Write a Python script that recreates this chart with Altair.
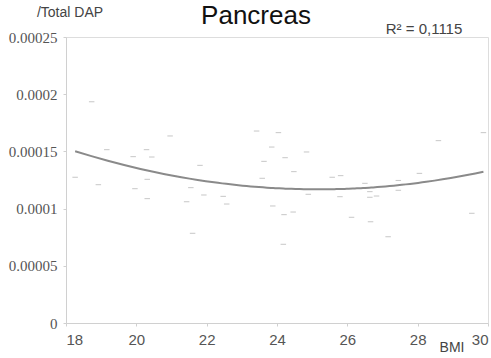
import altair as alt
import pandas as pd

# BMI of each subject and the matching nuclear DAP fraction
bmi = [18.73, 20.96, 19.16, 20.29, 19.91, 20.44, 21.81, 18.26, 20.31, 18.92,
       21.55, 19.96, 21.92, 20.31, 21.43, 21.60, 23.42, 24.04, 23.85, 24.84,
       24.23, 23.63, 24.48, 23.58, 25.57, 25.81, 22.47, 22.57, 24.89, 25.79,
       23.88, 24.20, 24.46, 24.18, 29.87, 28.59, 28.05, 27.45, 26.50, 26.64,
       27.45, 26.64, 26.83, 26.12, 26.66, 29.54, 27.16, 23.99]
dap = [0.0001934, 0.0001635, 0.0001515, 0.0001515, 0.0001454, 0.0001451, 0.0001378,
       0.0001274, 0.0001256, 0.0001209, 0.0001183, 0.0001174, 0.0001119, 0.0001087,
       0.0001060, 0.0000784, 0.0001678, 0.0001664, 0.0001538, 0.0001495, 0.0001445,
       0.0001413, 0.0001323, 0.0001265, 0.0001274, 0.0001288, 0.0001107, 0.0001040,
       0.0001125, 0.0001104, 0.0001023, 0.0000947, 0.0000970, 0.0000688, 0.0001664,
       0.0001594, 0.0001308, 0.0001246, 0.0001221, 0.0001148, 0.0001160, 0.0001099,
       0.0001110, 0.0000924, 0.0000885, 0.0000959, 0.0000754, 0.0001177]

x_ticks = [18, 20, 22, 24, 26, 28, 30]
y_ticks = [0, 0.00005, 0.0001, 0.00015, 0.0002, 0.00025]

df = pd.DataFrame({"BMI": bmi, "DAP": dap})

x_enc = alt.X(
    "BMI:Q",
    scale=alt.Scale(domain=[18, 30], nice=False, zero=False),
    axis=alt.Axis(
        values=x_ticks, title=None, grid=False, domainColor="#d0d0d0",
        tickColor="#d0d0d0", tickSize=3, labelFont="Liberation Sans",
        labelFontSize=15, labelColor="#555555", labelPadding=6,
    ),
)
y_enc = alt.Y(
    "DAP:Q",
    scale=alt.Scale(domain=[0, 0.00025], nice=False),
    axis=alt.Axis(
        values=y_ticks, title=None, grid=False, domainColor="#d0d0d0",
        tickColor="#d0d0d0", tickSize=3, labelFont="Liberation Serif",
        labelFontSize=15, labelColor="#555555", labelPadding=6,
        labelExpr="datum.value == 0 ? '0' : format(datum.value, '~g')",
    ),
)

base = alt.Chart(df)

points = base.mark_point(
    shape="stroke", size=30, stroke="#b0b0b0", strokeWidth=1, filled=False
).encode(x=x_enc, y=y_enc)

trend = base.transform_regression(
    "BMI", "DAP", method="poly", order=2
).mark_line(color="#8a8a8a", strokeWidth=2).encode(x=x_enc, y=y_enc)


def label(text, x, y, size, color, font="Liberation Sans", align="center"):
    return alt.Chart(pd.DataFrame({"t": [text]})).mark_text(
        font=font, fontSize=size, color=color, align=align, baseline="middle"
    ).encode(text="t:N", x=alt.value(x), y=alt.value(y))


title = label("Pancreas", 190, -21, 26, "#111111")
r2 = label("R\u00b2 = 0,1115", 358, -8, 15, "#444444")
ytitle = label("/Total DAP", 4, -24, 14, "#444444")
xtitle = label("BMI", 386, 311, 14, "#444444")

chart = alt.layer(points, trend, title, r2, ytitle, xtitle).properties(
    width=422,
    height=286,
    autosize=alt.AutoSizeParams(type="none"),
    padding={"left": 66, "top": 37, "right": 3, "bottom": 35},
).configure_view(stroke=None).configure(background="white")

chart.save("out.html", embed_options={"renderer": "svg", "actions": False})
